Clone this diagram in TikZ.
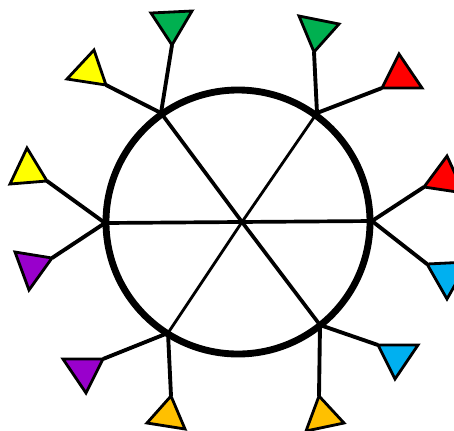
\documentclass[tikz,border=0pt]{standalone}
\usepackage{xcolor}
\usetikzlibrary{calc}
\definecolor{flaggreen}{HTML}{00B050}
\definecolor{flagyellow}{HTML}{FFFF00}
\definecolor{flagred}{HTML}{FF0000}
\definecolor{flagblue}{HTML}{00B0F0}
\definecolor{flagpurple}{HTML}{9900CC}
\definecolor{flagorange}{HTML}{FFC000}
\begin{document}
\begin{tikzpicture}[x=0.2mm, y=-0.2mm,
  rim/.style={draw, line width=3.9pt},
  spoke/.style={draw, line width=2.1pt},
  stem/.style={draw, line width=2.2pt},
  flag/.style={draw, line width=1.6pt, line join=miter}]
\useasboundingbox (0,0) rectangle (454,430);
\clip (0,0) rectangle (454,430);
\coordinate (hub) at (242,222);
\coordinate (rNW) at (161,113);
\coordinate (rNE) at (317,113);
\coordinate (rW) at (105,223);
\coordinate (rE) at (372,221);
\coordinate (rSW) at (168,333);
\coordinate (rSE) at (320,325);
\node[circle, rim, minimum size=264*0.2mm, inner sep=0pt, outer sep=0pt] (wheel) at (238,222) {};
\draw[spoke] (rNW) -- (hub) -- (rSE);
\draw[spoke, line width=1.6pt] (rNE) -- (hub) -- (rSW);
\draw[spoke] (rW) -- (rE);
% tip, second corner, third corner, colour, rim point
\foreach \t/\a/\b/\c/\r in {
  {172,45}/{192,11}/{151,13}/flaggreen/rNW,
  {106,85}/{94,50}/{67,79}/flagyellow/rNW,
  {47,181}/{27,148}/{10,184}/flagyellow/rW,
  {52,258}/{15,252}/{29,290}/flagpurple/rW,
  {103,359}/{63,359}/{86,393}/flagpurple/rSW,
  {171,396}/{147,423}/{185,429}/flagorange/rSW,
  {319,396}/{344,423}/{306,431}/flagorange/rSE,
  {378,345}/{418,345}/{395,379}/flagblue/rSE,
  {427,264}/{468,262}/{447,299}/flagblue/rE,
  {424,187}/{447,156}/{464,193}/flagred/rE,
  {382,88}/{399,54}/{422,88}/flagred/rNE,
  {314,52}/{299,16}/{339,24}/flaggreen/rNE}{
  \coordinate (tip) at (\t);
  \draw[stem] (\r) -- (tip);
  \draw[flag, fill=\c] (tip) -- (\a) -- (\b) -- cycle;
}
\end{tikzpicture}
\end{document}
